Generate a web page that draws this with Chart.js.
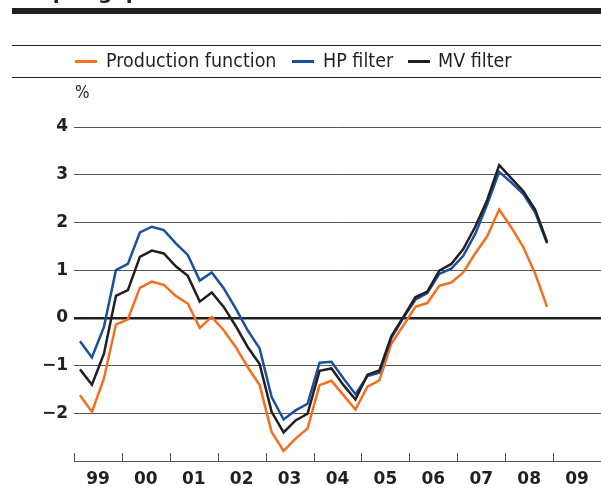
<!DOCTYPE html>
<html>
<head>
<meta charset="utf-8">
<script src="https://cdn.jsdelivr.net/npm/chart.js@4.4.0/dist/chart.umd.min.js"></script>
<style>
body{margin:0;background:#fff;width:601px;height:489px;overflow:hidden;position:relative;
  font-family:"DejaVu Sans Condensed","DejaVu Sans",sans-serif;color:#231f20}
#c{position:absolute;left:0;top:0}
.abs{position:absolute;white-space:nowrap}
.rule{position:absolute;left:12px;width:589px;background:#231f20}
.sw{position:absolute;top:60px;width:22px;height:3px}
.lg{position:absolute;top:51px;font-size:19.5px;line-height:20px;white-space:nowrap}
</style>
</head>
<body>
<canvas id="c" width="601" height="489"></canvas>
<div class="abs" style="left:12px;top:-18px;font:bold 20px/20px 'DejaVu Sans',sans-serif">Output gap</div>
<div class="rule" style="top:8px;height:6px"></div>
<div class="rule" style="top:45px;height:1px"></div>
<div class="rule" style="top:77px;height:1px"></div>
<div class="sw" style="left:75px;background:#f36f21"></div>
<div class="lg" style="left:106px">Production function</div>
<div class="sw" style="left:292px;background:#1b4f9f"></div>
<div class="lg" style="left:323px">HP filter</div>
<div class="sw" style="left:408px;background:#231f20"></div>
<div class="lg" style="left:438px">MV filter</div>
<div class="abs" style="left:75px;top:84px;font-size:17px;line-height:17px">%</div>
<script>
// quarters 1999Q1 - 2008Q4
var quarters = ['1999Q1','1999Q2','1999Q3','1999Q4','2000Q1','2000Q2','2000Q3','2000Q4',
  '2001Q1','2001Q2','2001Q3','2001Q4','2002Q1','2002Q2','2002Q3','2002Q4',
  '2003Q1','2003Q2','2003Q3','2003Q4','2004Q1','2004Q2','2004Q3','2004Q4',
  '2005Q1','2005Q2','2005Q3','2005Q4','2006Q1','2006Q2','2006Q3','2006Q4',
  '2007Q1','2007Q2','2007Q3','2007Q4','2008Q1','2008Q2','2008Q3','2008Q4'];

var productionFunction = [-1.62,-1.97,-1.27,-0.14,-0.03,0.63,0.76,0.69,
  0.46,0.30,-0.21,0.02,-0.26,-0.61,-1.03,-1.41,
  -2.39,-2.79,-2.53,-2.32,-1.41,-1.32,-1.62,-1.92,
  -1.44,-1.31,-0.54,-0.16,0.23,0.31,0.67,0.74,
  0.95,1.35,1.71,2.27,1.90,1.49,0.93,0.23];

var hpFilter = [-0.49,-0.83,-0.19,1.00,1.13,1.79,1.91,1.84,
  1.56,1.32,0.78,0.95,0.62,0.20,-0.26,-0.64,
  -1.66,-2.13,-1.94,-1.80,-0.94,-0.92,-1.27,-1.60,
  -1.22,-1.15,-0.42,0.00,0.38,0.52,0.92,1.03,
  1.30,1.76,2.38,3.06,2.84,2.60,2.21,1.56];

var mvFilter = [-1.08,-1.40,-0.75,0.46,0.58,1.28,1.41,1.35,
  1.08,0.88,0.34,0.53,0.23,-0.17,-0.61,-0.97,
  -1.97,-2.40,-2.15,-2.01,-1.11,-1.06,-1.41,-1.71,
  -1.19,-1.10,-0.38,0.02,0.43,0.55,0.99,1.13,
  1.44,1.91,2.47,3.20,2.93,2.66,2.27,1.59];

var yearLabels = ['99','00','01','02','03','04','05','06','07','08','09'];
var yearTicks = [1999,2000,2001,2002,2003,2004,2005,2006,2007,2008,2009,2010];
var yTicks = [-3,-2,-1,0,1,2,3,4];

function quarterPos(q){
  var yr = parseInt(q.substr(0,4));
  var n = parseInt(q.substr(5,1));
  return yr + (n - 0.5) / 4;
}
function toPoints(arr){
  var pts = [];
  for(var i=0;i<quarters.length;i++){
    pts.push({x: quarterPos(quarters[i]), y: arr[i]});
  }
  return pts;
}

var yearTickMarks = {
  id: 'yearTickMarks',
  afterDraw: function(chart){
    var ctx = chart.ctx, xs = chart.scales.x, bottom = chart.chartArea.bottom;
    ctx.save();
    ctx.strokeStyle = '#555';
    ctx.lineWidth = 1;
    for(var i=0;i<yearTicks.length;i++){
      var px = Math.round(xs.getPixelForValue(yearTicks[i])) + 0.5;
      ctx.beginPath();
      ctx.moveTo(px, bottom - 8);
      ctx.lineTo(px, bottom);
      ctx.stroke();
    }
    ctx.restore();
  }
};

var ctx = document.getElementById('c').getContext('2d');
new Chart(ctx, {
  type: 'line',
  data: {
    datasets: [
      {label:'MV filter', data: toPoints(mvFilter), borderColor:'#231f20', order:0},
      {label:'HP filter', data: toPoints(hpFilter), borderColor:'#1b4f9f', order:1},
      {label:'Production function', data: toPoints(productionFunction), borderColor:'#f36f21', order:2}
    ]
  },
  options: {
    responsive: false,
    animation: false,
    devicePixelRatio: 1,
    layout: {padding: {top: 127, right: 0, left: 0, bottom: 0}},
    elements: {
      line: {borderWidth: 2.5, tension: 0, fill: false},
      point: {radius: 0}
    },
    plugins: {legend: {display: false}, tooltip: {enabled: false}},
    scales: {
      x: {
        type: 'linear',
        min: 1999, max: 2010,
        afterBuildTicks: function(s){
          s.ticks = yearLabels.map(function(l, i){ return {value: 1999.5 + i}; });
        },
        afterFit: function(s){ s.height = 28; },
        grid: {display: false},
        border: {display: true, color: '#555', width: 1},
        ticks: {
          autoSkip: false, maxRotation: 0, padding: 0,
          color: '#231f20',
          font: {family: 'DejaVu Sans', size: 17, weight: 'bold'},
          callback: function(v, i){ return yearLabels[i]; }
        }
      },
      y: {
        min: -3, max: 4,
        afterBuildTicks: function(s){
          s.ticks = yTicks.map(function(v){ return {value: v}; });
        },
        afterFit: function(s){ s.width = 74; },
        border: {display: false},
        grid: {
          drawTicks: false,
          color: function(c){
            if(c.tick.value === -3) return 'rgba(0,0,0,0)';
            return c.tick.value === 0 ? '#231f20' : '#555';
          },
          lineWidth: function(c){ return c.tick.value === 0 ? 2.5 : 1; }
        },
        ticks: {
          padding: 6,
          color: '#231f20',
          font: {family: 'DejaVu Sans', size: 17, weight: 'bold'},
          callback: function(v){
            if(v === -3) return '';
            return v < 0 ? '\u2212' + Math.abs(v) : String(v);
          }
        }
      }
    }
  },
  plugins: [yearTickMarks]
});
</script>
</body>
</html>
